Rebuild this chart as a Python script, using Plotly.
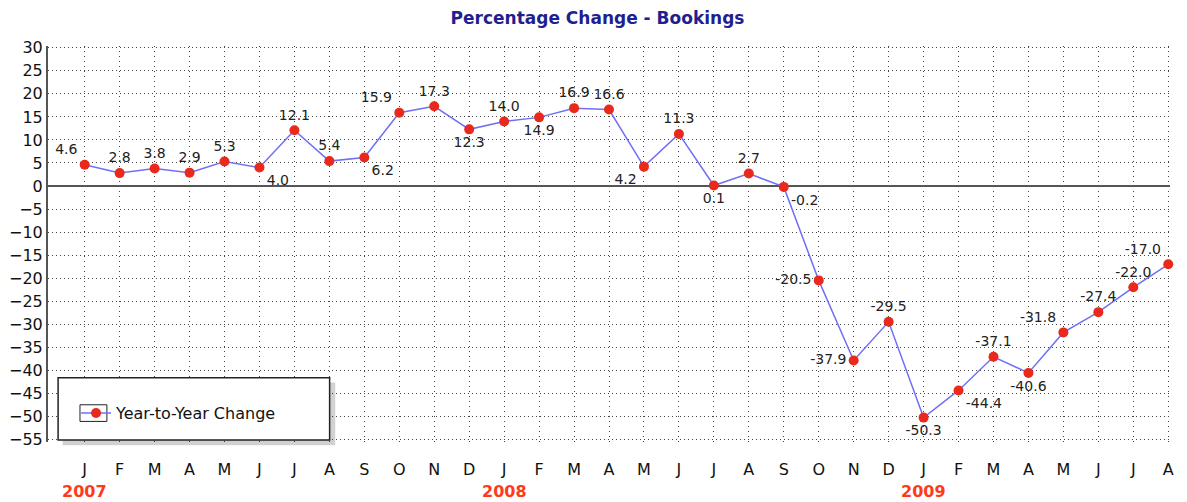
import plotly.graph_objects as go

months = ['J', 'F', 'M', 'A', 'M', 'J', 'J', 'A', 'S', 'O', 'N', 'D',
          'J', 'F', 'M', 'A', 'M', 'J', 'J', 'A', 'S', 'O', 'N', 'D',
          'J', 'F', 'M', 'A', 'M', 'J', 'J', 'A']
values = [4.6, 2.8, 3.8, 2.9, 5.3, 4.0, 12.1, 5.4, 6.2, 15.9, 17.3, 12.3,
          14.0, 14.9, 16.9, 16.6, 4.2, 11.3, 0.1, 2.7, -0.2, -20.5, -37.9, -29.5,
          -50.3, -44.4, -37.1, -40.6, -31.8, -27.4, -22.0, -17.0]
years = ['2007', '2008', '2009']
year_start = [0, 12, 24]
y_ticks = list(range(30, -60, -5))

# where each value label sits relative to its point
label_pos = ['top left', 'top center', 'top center', 'top center', 'top center', 'bottom right',
             'top center', 'top center', 'bottom right', 'top left', 'top center', 'bottom center',
             'top center', 'bottom center', 'top center', 'top center', 'bottom left', 'top center',
             'bottom center', 'top center', 'bottom right', 'middle left', 'middle left', 'top center',
             'bottom center', 'bottom right', 'top center', 'bottom center', 'top left', 'top center',
             'top center', 'top left']

x = list(range(len(values)))
font = "DejaVu Sans"

fig = go.Figure()
fig.add_trace(go.Scatter(
    x=x, y=values, mode='lines+markers+text',
    name='Year-to-Year Change',
    line=dict(color='#6f6ff7', width=1.5),
    marker=dict(color='#e8291c', size=10),
    text=[f"{v:.1f}" for v in values],
    textposition=label_pos,
    textfont=dict(family=font, size=14, color='#222222'),
    cliponaxis=False,
))

# legend box with a soft shadow
fig.add_shape(type='rect', xref='paper', yref='paper', x0=0.013, x1=0.256, y0=-0.008, y1=0.150,
              fillcolor='rgba(0,0,0,0.18)', line=dict(width=0), layer='above')
fig.add_shape(type='rect', xref='paper', yref='paper', x0=0.009, x1=0.251, y0=0.005, y1=0.162,
              fillcolor='white', line=dict(color='#222222', width=1.5), layer='above')
fig.add_shape(type='rect', xref='paper', yref='paper', x0=0.0285, x1=0.0525, y0=0.052, y1=0.094,
              fillcolor='rgba(0,0,0,0)', line=dict(color='#222222', width=1), layer='above')

for yr, i in zip(years, year_start):
    fig.add_annotation(x=i, y=-0.126, xref='x', yref='paper', yanchor='middle', text=f"<b>{yr}</b>",
                       showarrow=False, font=dict(family=font, size=16, color='#ff3a1a'))

# the page adds an 8px body margin, so the figure is drawn 8px smaller
fig.update_layout(
    width=1179, height=494,
    margin=dict(l=40, r=17, t=38, b=60),
    paper_bgcolor='white', plot_bgcolor='white',
    title=dict(text='<b>Percentage Change - Bookings</b>', x=0.5, xanchor='center',
               y=0.98, yanchor='middle',
               font=dict(family=font, size=17, color='#1f1f8f')),
    showlegend=True,
    legend=dict(x=0.025, y=0.073, xanchor='left', yanchor='middle', bgcolor='rgba(0,0,0,0)',
                borderwidth=0, itemwidth=30, font=dict(family=font, size=16, color='#111111')),
    font=dict(family=font, color='#111111'),
)
fig.update_xaxes(
    range=[-1.05, 31.05], tickvals=x, ticktext=months, showgrid=True, automargin=False,
    gridcolor='#444444', griddash='1px,4px', gridwidth=1,
    zeroline=False, showline=False, ticks='', ticklabelstandoff=16,
    tickfont=dict(family=font, size=16, color='#111111'),
)
fig.update_yaxes(
    range=[-55.6, 30.4], tickvals=y_ticks, showgrid=True, automargin=False,
    gridcolor='#444444', griddash='1px,3px', gridwidth=1,
    zeroline=True, zerolinecolor='#555555', zerolinewidth=2,
    showline=True, linecolor='#555555', linewidth=2, ticks='',
    tickfont=dict(family=font, size=16, color='#111111'),
)

fig.write_html("out.html")
